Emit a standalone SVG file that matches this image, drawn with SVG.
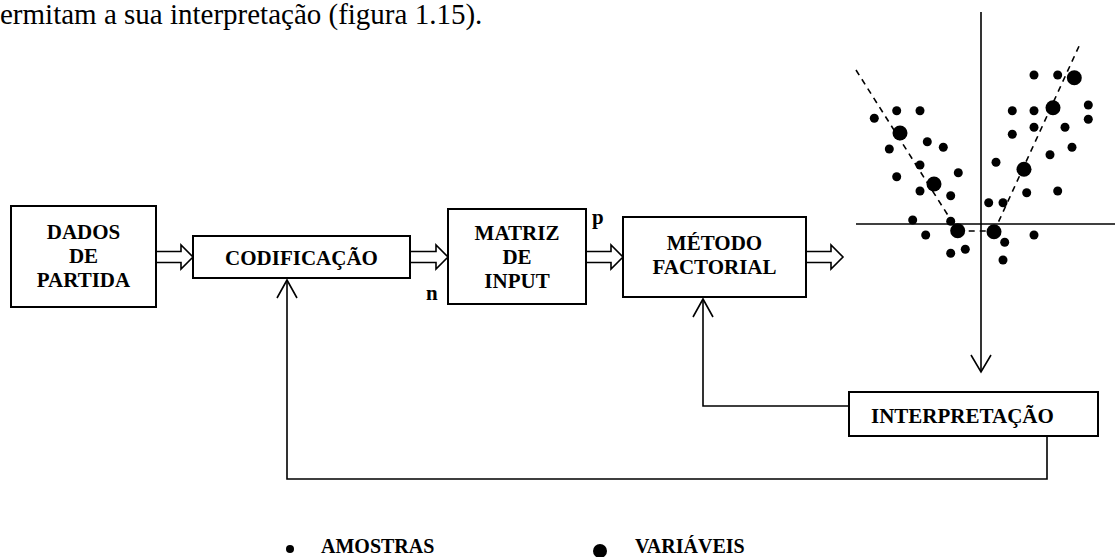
<svg xmlns="http://www.w3.org/2000/svg" width="1115" height="557" viewBox="0 0 1115 557">
<style>
.box{fill:#fff;stroke:#000;stroke-width:2}
.lbl{font-family:"Liberation Serif","Times New Roman",serif;font-weight:bold;font-size:21px;fill:#000}
.leg{font-family:"Liberation Serif","Times New Roman",serif;font-weight:bold;font-size:20px;fill:#000}
.body{font-family:"Liberation Serif","Times New Roman",serif;font-size:29px;fill:#000}
.ln{fill:none;stroke:#000;stroke-width:1.6}
.hol{fill:#fff;stroke:#000;stroke-width:1.6;stroke-linejoin:miter}
.dash{fill:none;stroke:#000;stroke-width:1.6;stroke-dasharray:6,5}
.s{fill:#000}
</style>
<rect width="1115" height="557" fill="#fff"/>
<text class="body" x="0" y="24">ermitam a sua interpretação (figura 1.15).</text>

<g id="connectors">
<path class="hol" d="M156,251.5 H181 V245 L193,257 L181,269 V262.5 H156"/>
<path class="hol" d="M410,251.5 H436 V245 L448,257 L436,269 V262.5 H410"/>
<path class="hol" d="M586,251.5 H611 V245 L623,257 L611,269 V262.5 H586"/>
<path class="hol" d="M806,251.5 H831 V245 L843,257 L831,269 V262.5 H806"/>
<polyline class="ln" points="1047,436 1047,479 287,479 287,280"/>
<polyline class="ln" points="277,298 287,280 297,298"/>
<polyline class="ln" points="849,406 703,406 703,299"/>
<polyline class="ln" points="693,317 703,299 713,317"/>
<line class="ln" x1="981" y1="12" x2="981" y2="372"/>
<polyline class="ln" points="971,355 981,372 991,355"/>
</g>

<g id="dados">
<rect class="box" x="11" y="206" width="145" height="101"/>
<text class="lbl" text-anchor="middle" x="83.5" y="239">DADOS</text>
<text class="lbl" text-anchor="middle" x="83.5" y="263">DE</text>
<text class="lbl" text-anchor="middle" x="83.5" y="287">PARTIDA</text>
</g>
<g id="codificacao">
<rect class="box" x="193" y="236" width="217" height="42"/>
<text class="lbl" text-anchor="middle" x="301.5" y="265">CODIFICAÇÃO</text>
</g>
<g id="matriz">
<rect class="box" x="448" y="209" width="138" height="95"/>
<text class="lbl" text-anchor="middle" x="517" y="240">MATRIZ</text>
<text class="lbl" text-anchor="middle" x="517" y="264">DE</text>
<text class="lbl" text-anchor="middle" x="517" y="288">INPUT</text>
<text class="lbl" x="426" y="300">n</text>
<text class="lbl" x="592" y="224">p</text>
</g>
<g id="metodo">
<rect class="box" x="623" y="217" width="183" height="80"/>
<text class="lbl" text-anchor="middle" x="714.5" y="250">MÉTODO</text>
<text class="lbl" text-anchor="middle" x="714.5" y="274">FACTORIAL</text>
</g>
<g id="interpretacao">
<rect class="box" x="849" y="392" width="249" height="44"/>
<text class="lbl" x="871" y="423">INTERPRETAÇÃO</text>
</g>

<g id="plot">
<line class="ln" x1="856" y1="224" x2="1115" y2="224"/>
<line class="dash" x1="856" y1="70" x2="957.7" y2="230.7"/>
<line class="dash" x1="957.7" y1="231" x2="994" y2="231"/>
<line class="dash" x1="994" y1="231.7" x2="1080" y2="44"/>
<g class="s">
<circle cx="1034" cy="75" r="4.5"/>
<circle cx="1057.7" cy="75" r="4.5"/>
<circle cx="896.7" cy="110.7" r="4.5"/>
<circle cx="920" cy="110.7" r="4.5"/>
<circle cx="874.3" cy="118.3" r="4.5"/>
<circle cx="1012.3" cy="110.7" r="4.5"/>
<circle cx="1034" cy="110.7" r="4.5"/>
<circle cx="1088.3" cy="105" r="4.5"/>
<circle cx="1088.3" cy="119.3" r="4.5"/>
<circle cx="1034" cy="127.3" r="4.5"/>
<circle cx="1065" cy="127.3" r="4.5"/>
<circle cx="1012.3" cy="134.3" r="4.5"/>
<circle cx="927.3" cy="141.7" r="4.5"/>
<circle cx="889.3" cy="149" r="4.5"/>
<circle cx="943.3" cy="147.3" r="4.5"/>
<circle cx="1072" cy="147.3" r="4.5"/>
<circle cx="1050" cy="154.7" r="4.5"/>
<circle cx="920" cy="165" r="4.5"/>
<circle cx="996" cy="162.3" r="4.5"/>
<circle cx="896.7" cy="176.7" r="4.5"/>
<circle cx="958.3" cy="172.7" r="4.5"/>
<circle cx="920" cy="191" r="4.5"/>
<circle cx="950.7" cy="195.7" r="4.5"/>
<circle cx="1026.7" cy="192.7" r="4.5"/>
<circle cx="1057.7" cy="191" r="4.5"/>
<circle cx="988.7" cy="202.7" r="4.5"/>
<circle cx="1003" cy="202.7" r="4.5"/>
<circle cx="912.7" cy="220" r="4.5"/>
<circle cx="950.7" cy="221.3" r="4.5"/>
<circle cx="925.7" cy="235" r="4.5"/>
<circle cx="1034" cy="235" r="4.5"/>
<circle cx="1004.7" cy="242.3" r="4.5"/>
<circle cx="950.7" cy="253.3" r="4.5"/>
<circle cx="965.3" cy="249.3" r="4.5"/>
<circle cx="1003" cy="260" r="4.5"/>
<circle cx="1074.3" cy="77.7" r="7.5"/>
<circle cx="1053" cy="107.7" r="7.5"/>
<circle cx="900" cy="133" r="7.5"/>
<circle cx="1024" cy="169.3" r="7.5"/>
<circle cx="934" cy="184" r="7.5"/>
<circle cx="957.7" cy="230.7" r="7.5"/>
<circle cx="994" cy="231.7" r="7.5"/>
</g>
</g>

<g id="legend">
<circle class="s" cx="290" cy="549" r="4"/>
<text class="leg" x="321" y="553">AMOSTRAS</text>
<circle class="s" cx="600" cy="551" r="7"/>
<text class="leg" x="635" y="553">VARIÁVEIS</text>
</g>
</svg>
